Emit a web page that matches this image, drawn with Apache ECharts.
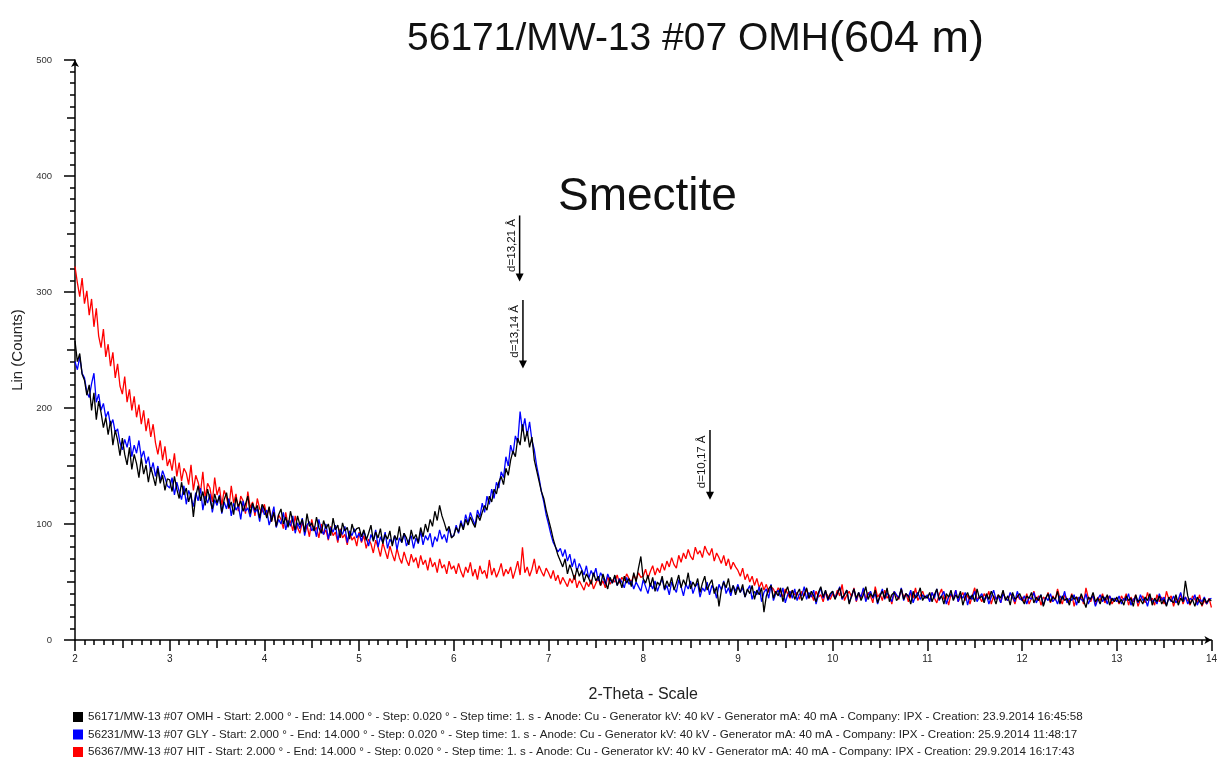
<!DOCTYPE html>
<html>
<head>
<meta charset="utf-8">
<script src="https://cdn.jsdelivr.net/npm/echarts@6/dist/echarts.min.js"></script>
<style>
html,body{margin:0;padding:0;background:#fff;}
#chart{width:1220px;height:761px;}
</style>
</head>
<body>
<div id="chart"></div>
<script>
const scanStart = 2.0;
const scanStep = 0.025;

const nameBlack = "56171/MW-13 #07 OMH - Start: 2.000 ° - End: 14.000 ° - Step: 0.020 ° - Step time: 1. s - Anode: Cu - Generator kV: 40 kV - Generator mA: 40 mA - Company: IPX - Creation: 23.9.2014 16:45:58";
const nameBlue = "56231/MW-13 #07 GLY - Start: 2.000 ° - End: 14.000 ° - Step: 0.020 ° - Step time: 1. s - Anode: Cu - Generator kV: 40 kV - Generator mA: 40 mA - Company: IPX - Creation: 25.9.2014 11:48:17";
const nameRed = "56367/MW-13 #07 HIT - Start: 2.000 ° - End: 14.000 ° - Step: 0.020 ° - Step time: 1. s - Anode: Cu - Generator kV: 40 kV - Generator mA: 40 mA - Company: IPX - Creation: 29.9.2014 16:17:43";

const countsBlack = [
258,240,247,229,224,211,220,198,213,190, 206,196,183,192,177,189,168,181,172,159, 174,160,151,166,147,160,152,140,157,143, 151,136,149,141,133,148,135,142,129,139,
138,128,141,130,122,136,125,131,119,127, 106,124,133,120,128,116,130,121,113,126, 118,124,110,121,127,114,119,108,123,115, 120,111,117,124,109,118,112,116,105,117,
113,105,115,102,110,98,108,113,100,106, 97,111,102,95,107,99,104,93,109,98, 101,94,106,97,92,103,96,100,90,105, 95,99,88,101,94,97,87,100,93,96,
97,89,95,86,92,99,85,93,88,96, 83,91,87,94,81,90,86,98,84,92, 88,82,95,87,91,84,97,89,100,93, 104,98,111,103,116,107,101,94,98,88,
90,97,93,101,95,104,99,106,101,97, 108,103,110,116,112,124,119,130,126,136, 141,134,148,142,155,163,158,174,168,186, 171,180,166,175,155,146,137,128,122,112,
104,96,87,80,73,68,63,70,57,65, 59,52,62,55,60,50,57,53,48,58, 51,55,47,57,50,44,54,49,56,47, 52,45,55,49,53,46,58,50,62,72,
53,49,56,46,54,42,50,47,55,44, 51,46,54,43,49,56,45,52,47,58, 44,50,46,53,41,49,55,43,48,52, 40,46,29,43,50,45,53,41,47,39,
46,41,48,37,44,40,47,35,43,39, 45,24,38,44,47,36,42,38,45,33, 41,46,37,43,35,40,44,34,39,45, 36,42,38,33,41,46,37,43,35,40,
42,35,40,45,36,39,43,31,38,44, 36,41,34,39,46,35,40,37,43,32, 38,42,36,45,33,39,41,34,37,44, 35,40,38,31,42,36,39,45,34,38,
36,41,33,39,44,35,38,31,40,37, 43,34,39,36,42,30,37,41,35,39, 33,44,36,38,32,40,35,42,37,31, 39,36,43,34,38,30,41,35,37,40,
35,31,38,36,41,32,37,34,39,29, 36,40,33,37,35,42,31,38,34,36, 30,39,35,37,32,40,34,28,37,35, 41,33,36,31,38,34,39,30,36,33,
37,32,35,30,38,34,36,29,39,33, 35,31,37,34,40,30,36,33,38,31, 35,29,37,34,32,39,30,36,33,51, 38,31,35,29,37,33,30,36,32,35,
34];

const countsBlue = [
240,233,244,230,226,214,209,221,230,205, 212,198,204,192,197,185,190,179,182,170, 164,173,166,176,158,168,161,172,157,163, 152,158,145,153,141,150,137,146,140,133,
131,140,125,136,128,121,133,117,129,123, 115,127,120,131,112,124,118,126,110,121, 116,125,109,119,113,122,107,118,112,116, 104,120,111,114,106,117,110,113,102,115,
108,112,99,106,115,97,104,100,110,95, 103,98,107,92,101,96,105,90,99,102, 94,98,89,104,95,91,100,87,97,93, 99,86,95,91,98,84,94,90,96,88,
92,85,94,88,81,91,86,95,80,89, 84,93,79,87,83,90,78,88,84,92, 81,86,90,79,88,83,94,82,90,86, 92,80,89,85,95,87,91,84,97,89,
90,99,92,103,96,108,101,110,104,99, 112,106,118,110,124,117,130,122,136,131, 145,140,158,150,168,160,176,170,197,180, 191,176,188,172,164,150,140,128,119,108,
100,91,84,80,76,79,72,78,68,74, 63,70,59,66,61,56,64,53,60,55, 62,51,58,54,48,57,52,49,55,47, 53,50,45,54,48,51,44,50,46,42,
52,46,40,49,44,51,42,48,53,43, 47,39,50,45,41,52,46,38,48,44, 51,40,46,49,37,45,42,50,39,47, 44,36,48,43,51,40,45,38,47,42,
48,41,45,37,43,47,35,42,39,46, 33,41,44,36,48,34,40,43,37,45, 32,39,42,36,44,34,40,38,46,35, 41,37,43,31,39,45,36,42,34,38,
42,36,40,46,35,39,43,32,38,44, 34,41,37,45,33,39,42,36,40,31, 38,44,35,41,37,33,42,39,36,45, 34,40,37,43,32,38,41,35,39,36,
39,33,41,36,44,34,38,42,31,37, 40,35,43,33,39,36,41,30,38,35, 42,33,37,40,34,39,31,37,43,35, 38,32,40,36,34,41,37,33,42,36,
34,38,31,37,35,41,32,36,39,30, 37,34,40,33,36,31,38,35,42,32, 36,34,39,30,37,35,33,40,31,36, 38,29,35,39,33,37,31,38,34,36,
33,38,31,36,34,40,30,35,37,32, 39,34,36,29,38,33,35,31,40,34, 37,30,36,33,38,32,35,41,33,37, 31,36,34,39,30,35,33,37,31,35,
36];

const countsRed = [
322,308,296,312,290,301,280,294,270,286, 262,252,268,244,255,236,248,226,238,219, 212,227,205,216,198,210,192,203,186,198, 180,191,175,186,170,160,172,155,167,150,
156,146,161,141,153,137,148,144,134,151, 129,142,136,127,145,122,135,131,119,140, 125,132,116,129,123,113,133,118,126,111, 124,120,109,128,114,119,107,122,113,110,
117,107,114,102,111,98,108,104,96,110, 99,103,94,107,97,92,102,95,99,89, 104,94,97,88,100,91,95,86,98,90, 93,84,96,88,91,82,94,86,89,81,
93,84,90,79,87,83,75,86,80,72, 84,77,70,81,74,68,79,71,66,76, 69,64,74,67,71,62,73,65,69,60, 71,63,67,58,70,62,65,57,68,61,
64,57,66,59,54,63,58,67,55,61, 52,64,57,60,53,69,56,62,54,59, 66,55,61,57,63,53,60,68,56,80, 58,63,55,61,70,57,64,59,55,62,
58,53,60,51,56,48,54,50,46,53, 49,56,45,51,47,43,50,46,52,44, 49,53,47,51,45,55,48,52,50,56, 49,54,51,57,53,50,56,52,58,54,
55,61,53,59,64,56,62,58,66,60, 68,63,71,65,62,73,67,75,70,78, 72,69,80,74,77,71,81,76,73,79, 68,75,71,66,73,64,70,61,67,63,
60,55,62,52,57,50,55,47,53,45, 50,43,48,41,46,44,39,45,42,37, 44,40,36,43,39,41,35,42,38,44, 36,40,34,42,37,39,33,41,38,35,
40,36,43,38,48,34,39,42,37,45, 33,40,36,44,35,41,38,32,46,37, 40,34,43,36,39,31,42,38,35,44, 37,40,33,41,36,45,34,38,42,36,
38,34,41,36,32,39,44,35,38,30, 40,36,43,33,37,41,34,39,31,38, 45,35,37,33,40,36,42,31,38,35, 39,32,41,36,34,40,37,31,39,35,
37,33,40,31,36,42,34,38,30,37, 35,41,32,38,34,44,36,31,39,35, 33,40,29,37,35,38,31,45,36,33, 39,30,37,34,40,32,36,38,31,35,
36,31,38,34,40,30,37,33,39,29, 35,38,32,41,34,36,30,39,33,37, 31,42,35,38,29,36,33,40,31,37, 34,30,38,35,32,39,29,34,31,36,
28];

// Peak markers (d-spacing arrows)
const peakX = [6.695, 6.73, 8.705];
const peakTip = [309, 234, 121];
const peakTop = [366, 293, 181];
const peakLabel = ["d=13,21 Å", "d=13,14 Å", "d=10,17 Å"];

const xMin = 2, xMax = 14, yMin = 0, yMax = 500;

function pairs(arr) {
  return arr.map((v, i) => [+(scanStart + i * scanStep).toFixed(3), v]);
}

const FONT = '"Liberation Sans", Arial, sans-serif';
const chart = echarts.init(document.getElementById('chart'), null, {renderer: 'canvas'});

const lineSeries = (name, data, color) => ({
  name, type: 'line', data: pairs(data), showSymbol: false, symbol: 'none',
  xAxisIndex: 0, yAxisIndex: 0,
  lineStyle: {color, width: 1.3}, itemStyle: {color}, animation: false
});

const option = {
  backgroundColor: '#fff',
  animation: false,
  title: [
    {
      text: '{a|56171/MW-13 #07 OMH}{b|(604 m)}',
      left: 402, top: 12,
      textStyle: {
        fontWeight: 'normal',
        rich: {
          a: {fontFamily: FONT, fontSize: 39, fontWeight: 'normal', color: '#111'},
          b: {fontFamily: FONT, fontSize: 45, fontWeight: 'normal', color: '#111'}
        }
      }
    },
    {
      text: 'Smectite', left: 553, top: 169,
      textStyle: {fontFamily: FONT, fontSize: 46, fontWeight: 'normal', color: '#111'}
    }
  ],
  legend: {
    orient: 'vertical', left: 73, top: 711,
    itemWidth: 10, itemHeight: 10, itemGap: 5.5, padding: 0,
    icon: 'rect',
    data: [nameBlack, nameBlue, nameRed],
    textStyle: {fontFamily: FONT, fontSize: 11.6, color: '#222', lineHeight: 12}
  },
  grid: {left: 75, right: 5, top: 60, bottom: 121, containLabel: false},
  xAxis: [
    {
      type: 'value', min: xMin, max: xMax, interval: 1,
      name: '2-Theta - Scale', nameLocation: 'middle', nameGap: 47,
      nameTextStyle: {fontFamily: FONT, fontSize: 16, color: '#222'},
      axisLine: {show: true, lineStyle: {color: '#000', width: 1.5}, symbol: ['none', 'arrow'], symbolSize: [6, 7]},
      axisTick: {show: true, length: 11, lineStyle: {color: '#000', width: 1.5}},
      minorTick: {show: true, splitNumber: 10, length: 5, lineStyle: {color: '#000', width: 1.5}},
      axisLabel: {fontFamily: FONT, fontSize: 10, color: '#222', margin: 14},
      splitLine: {show: false}
    },
    {
      type: 'value', min: xMin, max: xMax, interval: 0.5, position: 'bottom',
      axisLine: {show: false}, axisLabel: {show: false}, splitLine: {show: false},
      axisTick: {show: true, length: 8, lineStyle: {color: '#000', width: 1.5}}
    }
  ],
  yAxis: [
    {
      type: 'value', min: yMin, max: yMax, interval: 100,
      name: 'Lin (Counts)', nameLocation: 'middle', nameGap: 50,
      nameTextStyle: {fontFamily: FONT, fontSize: 15, color: '#222'},
      axisLine: {show: true, lineStyle: {color: '#000', width: 1.5}, symbol: ['none', 'arrow'], symbolSize: [6, 7]},
      axisTick: {show: true, length: 11, lineStyle: {color: '#000', width: 1.5}},
      minorTick: {show: true, splitNumber: 10, length: 5, lineStyle: {color: '#000', width: 1.5}},
      axisLabel: {fontFamily: FONT, fontSize: 9.5, color: '#333', margin: 23},
      splitLine: {show: false}
    },
    {
      type: 'value', min: yMin, max: yMax, interval: 50, position: 'left',
      axisLine: {show: false}, axisLabel: {show: false}, splitLine: {show: false},
      axisTick: {show: true, length: 8, lineStyle: {color: '#000', width: 1.5}}
    }
  ],
  series: [
    lineSeries(nameRed, countsRed, '#ff0000'),
    lineSeries(nameBlue, countsBlue, '#0000ff'),
    lineSeries(nameBlack, countsBlack, '#000000'),
    {
      type: 'custom', name: 'peaks', silent: true, animation: false,
      xAxisIndex: 0, yAxisIndex: 0,
      data: peakX.map((x, i) => [x, peakTip[i], peakTop[i], i]),
      renderItem: function (params, api) {
        const x = api.value(0), tip = api.value(1), top = api.value(2), idx = api.value(3);
        const pTip = api.coord([x, tip]);
        const pTop = api.coord([x, top]);
        return {
          type: 'group',
          children: [
            {type: 'line', shape: {x1: pTop[0], y1: pTop[1], x2: pTip[0], y2: pTip[1] - 6},
             style: {stroke: '#000', lineWidth: 1.5}},
            {type: 'polygon', shape: {points: [[pTip[0] - 4, pTip[1] - 8], [pTip[0] + 4, pTip[1] - 8], [pTip[0], pTip[1]]]},
             style: {fill: '#000'}},
            {type: 'text', x: pTop[0] - 8, y: (pTop[1] + pTip[1] - 6) / 2, rotation: Math.PI / 2,
             style: {text: peakLabel[idx], fontFamily: FONT, fontSize: 11.5, fill: '#111', align: 'center', verticalAlign: 'middle'}}
          ]
        };
      }
    }
  ]
};
chart.setOption(option);
</script>
</body>
</html>
